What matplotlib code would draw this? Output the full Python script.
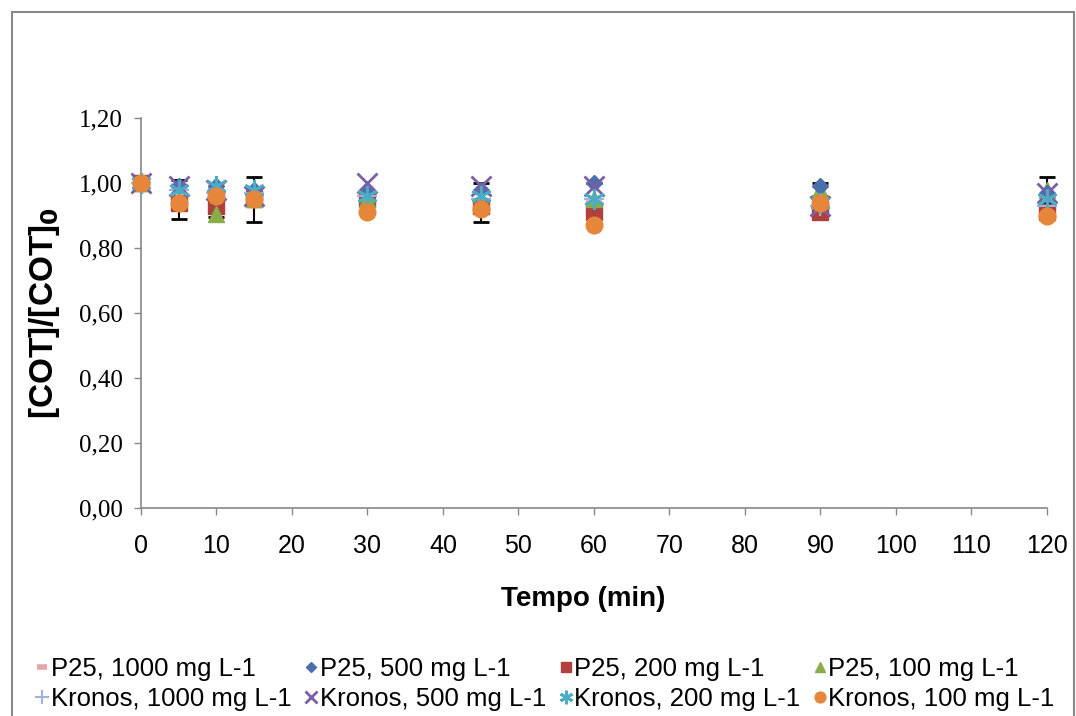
import matplotlib
matplotlib.use("Agg")
import matplotlib.pyplot as plt
from matplotlib.patches import Rectangle

# tempos de amostragem (min)
tempo = [0, 5, 10, 15, 30, 45, 60, 90, 120]

# [COT]/[COT]0 para cada catalisador e concentração
p25_1000 = [1.00, 0.99, 0.98, 0.97, 0.95, 0.94, 0.94, 0.92, 0.92]
p25_500 = [1.00, 0.99, 0.99, 0.98, 0.98, 0.98, 1.00, 0.99, 0.97]
p25_200 = [1.00, 0.94, 0.93, 0.95, 0.95, 0.93, 0.91, 0.91, 0.91]
p25_100 = [1.00, 0.95, 0.905, 0.95, 0.95, 0.94, 0.95, 0.98, 0.98]
p25_100_erro = [0.00, 0.06, 0.01, 0.07, 0.02, 0.06, 0.05, 0.02, 0.04]
kr_1000 = [1.00, 0.98, 0.97, 0.97, 0.96, 0.95, 0.95, 0.93, 0.93]
kr_500 = [1.00, 0.99, 0.98, 0.96, 1.00, 0.99, 0.99, 0.93, 0.97]
kr_200 = [1.00, 0.98, 0.99, 0.98, 0.96, 0.96, 0.95, 0.94, 0.95]
kr_100 = [1.00, 0.94, 0.96, 0.95, 0.91, 0.92, 0.87, 0.94, 0.90]

xticks = [0, 10, 20, 30, 40, 50, 60, 70, 80, 90, 100, 110, 120]
yticks = [0.0, 0.2, 0.4, 0.6, 0.8, 1.0, 1.2]

fig = plt.figure(figsize=(10.76, 7.16), dpi=100)
ax = fig.add_axes([0.131, 0.2905, 0.842, 0.5445])

# moldura externa
fig.patches.append(Rectangle((0.011, -0.01), 0.987, 0.993, transform=fig.transFigure,
                             fill=False, edgecolor='#888888', linewidth=1.5))

ax.errorbar(tempo, p25_100, yerr=p25_100_erro, fmt='none', ecolor='black',
            elinewidth=1.5, capsize=6, capthick=2, zorder=1, clip_on=False)

h = {}
h['p1000'], = ax.plot(tempo, p25_1000, linestyle='none', marker='_', markersize=11, markeredgewidth=4,
                      color='#e6a5a6', label='P25, 1000 mg L-1', zorder=2, clip_on=False)
h['p500'], = ax.plot(tempo, p25_500, linestyle='none', marker='D', markersize=8.5,
                     color='#4a6fab', label='P25, 500 mg L-1', zorder=3, clip_on=False)
h['p200'], = ax.plot(tempo, p25_200, linestyle='none', marker='s', markersize=11,
                     color='#b0403d', label='P25, 200 mg L-1', zorder=2, clip_on=False)
h['p100'], = ax.plot(tempo, p25_100, linestyle='none', marker='^', markersize=12,
                     color='#8aac4a', label='P25, 100 mg L-1', zorder=2, clip_on=False)
h['k1000'], = ax.plot(tempo, kr_1000, linestyle='none', marker='+', markersize=15, markeredgewidth=1.5,
                      color='#9fb3d8', label='Kronos, 1000 mg L-1', zorder=3, clip_on=False)
h['k500'], = ax.plot(tempo, kr_500, linestyle='none', marker='x', markersize=14, markeredgewidth=2,
                     color='#7a5fa8', label='Kronos, 500 mg L-1', zorder=3, clip_on=False)
h['k200'], = ax.plot(tempo, kr_200, linestyle='none', marker=(6, 2, 0), markersize=15, markeredgewidth=2,
                     color='#4bacc6', label='Kronos, 200 mg L-1', zorder=4, clip_on=False)
h['k100'], = ax.plot(tempo, kr_100, linestyle='none', marker='o', markersize=12,
                     color='#e6863a', label='Kronos, 100 mg L-1', zorder=5, clip_on=False)

ax.set_xlim(0, 120)
ax.set_ylim(0, 1.2)
ax.set_xticks(xticks)
ax.set_yticks(yticks)
ax.set_yticklabels([f'{v:.2f}'.replace('.', ',') for v in yticks],
                   fontfamily='Liberation Serif', fontsize=18)
ax.set_xticklabels([str(v) for v in xticks], fontfamily='Liberation Sans', fontsize=18)
ax.tick_params(axis='both', colors='#888888', labelcolor='black', length=5, width=1)
ax.tick_params(axis='x', pad=14)
ax.tick_params(axis='y', pad=8)

for s in ['top', 'right']:
    ax.spines[s].set_visible(False)
for s in ['left', 'bottom']:
    ax.spines[s].set_color('#888888')
    ax.spines[s].set_linewidth(1.2)

ax.set_xlabel('Tempo (min)', fontfamily='Liberation Sans', fontsize=20,
              fontweight='bold', labelpad=20, x=0.488)
ax.set_ylabel(r'[COT]/[COT]$_\mathbf{0}$', fontfamily='Liberation Sans', fontsize=24,
              fontweight='bold', labelpad=12)

# ordem por colunas para que cada linha da legenda tenha um catalisador
ordem = ['p1000', 'k1000', 'p500', 'k500', 'p200', 'k200', 'p100', 'k100']
fig.legend([h[k] for k in ordem], [h[k].get_label() for k in ordem],
           loc='center left', bbox_to_anchor=(0.022, 0.045), ncol=4, frameon=False,
           prop={'family': 'Liberation Sans', 'size': 18.5}, handletextpad=0.1,
           columnspacing=0.55, handlelength=0.45, labelspacing=0.22, markerscale=0.65,
           borderpad=0.0)

fig.savefig('out.png', dpi=100)
